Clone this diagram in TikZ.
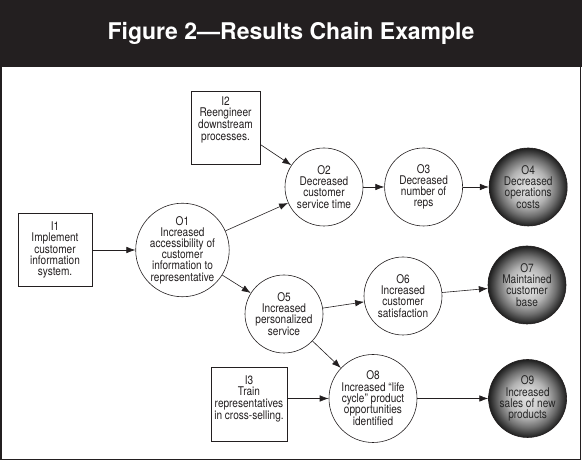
\documentclass[tikz,border=0pt]{standalone}
\usepackage{fontspec}
\usetikzlibrary{positioning}
\usetikzlibrary{arrows.meta}

\newfontfamily\condfont[FakeStretch=0.84]{TeX Gyre Heros}
\newfontfamily\titlefont{TeX Gyre Heros}
\definecolor{ink}{HTML}{231F20}
\pgfdeclareradialshading{ballshade}{\pgfpoint{0bp}{0bp}}{color(0bp)=(black!13); color(7bp)=(black!18); color(12.5bp)=(black!30); color(18.5bp)=(black!56); color(22.5bp)=(black!76); color(25bp)=(black!88); color(50bp)=(black!88)}
\newcommand{\boxtext}[3]{\parbox[c][#1][t]{#2}{\centering #3}}

\begin{document}
\begin{tikzpicture}[x=1pt, y=1pt,
inbox/.style={draw=ink, rectangle, line width=0.8pt, inner sep=0pt, align=center, text=ink,
  font={\condfont\fontsize{12}{11.2}\selectfont}},
outc/.style={draw=ink, circle, line width=0.6pt, minimum size=78pt, inner sep=0pt, align=center, text=ink,
  font={\condfont\fontsize{12}{11.2}\selectfont}},
endc/.style={outc, shading=ballshade, text=black!85},
paths/.style={draw=ink, line width=0.6pt, -{Latex[length=9pt,width=6.5pt]}}
]
\useasboundingbox (0,0) rectangle (582,462);

%title bar and frame
\fill[ink] (0,395) rectangle (582,462);
\node[text=white, font={\titlefont\bfseries\fontsize{23}{26}\selectfont}] (title) at (291,429) {Figure 2—Results Chain Example};
\draw[ink, line width=1.5pt] (1,395) -- (1,2.5) -- (580.5,2.5) -- (580.5,395);

%create nodes
\node[inbox, minimum width=74pt, minimum height=73pt] (i1) at (55,212) {I1\\Implement\\customer\\information\\system.};
\node[inbox, minimum width=69pt, minimum height=73pt] (i2) at (225.5,334.5) {\boxtext{62pt}{62pt}{I2\\Reengineer\\downstream\\processes.}};
\node[inbox, minimum width=76pt, minimum height=74pt] (i3) at (249,58) {\boxtext{56pt}{72pt}{I3\\Train\\representatives\\in cross-selling.}};

\node[outc, minimum size=90pt, right=43pt of i1] (o1) {O1\\Increased\\accessibility of\\customer\\information to\\representative};

\node[outc] (o2) at (324,275) {O2\\Decreased\\customer\\service time};
\node[outc, right=21pt of o2] (o3) {O3\\Decreased\\number of\\reps};
\node[endc, right=26pt of o3] (o4) {O4\\Decreased\\operations\\costs};

\node[outc] (o5) at (284,148) {O5\\Increased\\personalized\\service};
\node[outc] (o6) at (403,166) {O6\\Increased\\customer\\satisfaction};
\node[endc] (o7) at (527,177) {O7\\Maintained\\customer\\base};

\node[outc, minimum size=88pt] (o8) at (373,63.5) {O8\\Increased “life\\cycle” product\\opportunities\\identified};
\node[endc, right=71pt of o8] (o9) {O9\\Increased\\sales of new\\products};

%draw paths
\draw[paths] (i1.east) -- (o1);
\draw[paths] (i2.-26) -- (o2);
\draw[paths] (o1) -- (o2);
\draw[paths] (o1) -- (o5);
\draw[paths] (o2) -- (o3);
\draw[paths] (o3) -- (o4);
\draw[paths] (o5) -- (o6);
\draw[paths] (o6) -- (o7);
\draw[paths] (o5) -- (o8);
\draw[paths] (i3.east |- o8) -- (o8);
\draw[paths] (o8) -- (o9);

\end{tikzpicture}
\end{document}
